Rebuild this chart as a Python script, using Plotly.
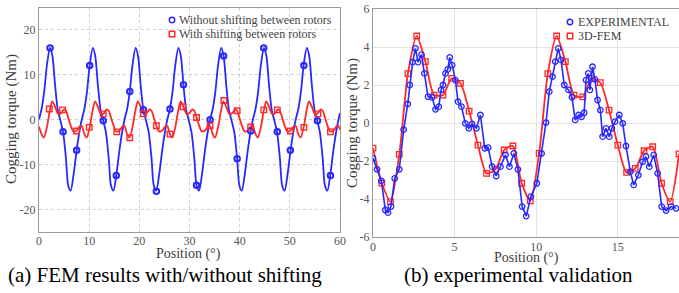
import plotly.graph_objects as go

# ---------------- Left panel (a): FEM results ----------------
without_pos = [0.0, 0.51, 1.04, 1.57,
    2.2, 2.68, 3.2, 3.74, 4.27, 4.8, 5.38, 5.81, 6.3, 6.87, 7.5, 8.08, 8.51, 9.04, 9.57, 10.1,
    10.73, 11.21, 11.73, 12.27, 12.8, 13.33, 13.91, 14.34, 14.83, 15.4, 16.03, 16.61, 17.04, 17.57, 18.1, 18.63,
    19.26, 19.74, 20.26, 20.8, 21.33, 21.86, 22.44, 22.87, 23.36, 23.93, 24.56, 25.14, 25.57, 26.1, 26.63, 27.16,
    27.79, 28.27, 28.79, 29.33, 29.86, 30.39, 30.97, 31.4, 31.89, 32.46, 33.09, 33.67, 34.1, 34.63, 35.16, 35.69,
    36.32, 36.8, 37.32, 37.86, 38.39, 38.92, 39.5, 39.93, 40.42, 40.99, 41.62, 42.2, 42.63, 43.16, 43.69, 44.22,
    44.85, 45.33, 45.85, 46.39, 46.92, 47.45, 48.03, 48.46, 48.95, 49.52, 50.15, 50.73, 51.16, 51.69, 52.22, 52.75,
    53.38, 53.86, 54.38, 54.92, 55.45, 55.98, 56.56, 56.99, 57.48, 58.05, 58.68, 59.26, 59.69, 60.0]
without_torque = [0.1, 2.4, 6.3, 12.1,
    16.0, 14.2, 7.8, 2.2, -0.2, -2.7, -8.7, -14.6, -15.8, -12.4, -6.8, -2.5, 0.0, 2.4, 6.3, 12.1,
    16.0, 14.2, 7.8, 2.2, -0.2, -2.7, -8.7, -14.6, -15.8, -12.4, -6.8, -2.5, 0.0, 2.4, 6.3, 12.1,
    16.0, 14.2, 7.8, 2.2, -0.2, -2.7, -8.7, -14.6, -15.8, -12.4, -6.8, -2.5, 0.0, 2.4, 6.3, 12.1,
    16.0, 14.2, 7.8, 2.2, -0.2, -2.7, -8.7, -14.6, -15.8, -12.4, -6.8, -2.5, 0.0, 2.4, 6.3, 12.1,
    16.0, 14.2, 7.8, 2.2, -0.2, -2.7, -8.7, -14.6, -15.8, -12.4, -6.8, -2.5, 0.0, 2.4, 6.3, 12.1,
    16.0, 14.2, 7.8, 2.2, -0.2, -2.7, -8.7, -14.6, -15.8, -12.4, -6.8, -2.5, 0.0, 2.4, 6.3, 12.1,
    16.0, 14.2, 7.8, 2.2, -0.2, -2.7, -8.7, -14.6, -15.8, -12.4, -6.8, -2.5, 0.0, 1.5]
without_mark_pos = [2.2, 4.8, 7.5, 10.1, 12.8, 15.4, 18.1, 20.8, 23.4, 26.1, 28.8, 31.4, 34.1, 36.8,
    39.5, 42.2, 44.8, 47.5, 50.1, 52.8, 55.5, 58.1]
without_mark_torque = [16.0, -2.7, -6.8, 12.1, -0.2, -12.4, 6.3, 2.2, -15.9, 2.4, 7.8, -14.6, 0.0, 14.2,
    -8.7, -2.5, 16.0, -2.7, -6.8, 12.1, -0.2, -12.4]

with_pos = [0.0, 0.5, 0.97, 1.57,
    2.2, 2.65, 3.2, 3.74, 4.05, 4.5, 4.95, 5.38, 5.81, 6.34, 6.87, 7.5, 8.1, 8.51, 9.04, 9.5, 10.1,
    10.73, 11.18, 11.73, 12.27, 12.58, 13.03, 13.48, 13.91, 14.34, 14.87, 15.4, 16.03, 16.63, 17.04, 17.57, 18.03, 18.63,
    19.26, 19.71, 20.26, 20.8, 21.11, 21.56, 22.01, 22.44, 22.87, 23.4, 23.93, 24.56, 25.16, 25.57, 26.1, 26.56, 27.16,
    27.79, 28.24, 28.79, 29.33, 29.64, 30.09, 30.54, 30.97, 31.4, 31.93, 32.46, 33.09, 33.69, 34.1, 34.63, 35.09, 35.69,
    36.32, 36.77, 37.32, 37.86, 38.17, 38.62, 39.07, 39.5, 39.93, 40.46, 40.99, 41.62, 42.22, 42.63, 43.16, 43.62, 44.22,
    44.85, 45.3, 45.85, 46.39, 46.7, 47.15, 47.6, 48.03, 48.46, 48.99, 49.52, 50.15, 50.75, 51.16, 51.69, 52.15, 52.75,
    53.38, 53.83, 54.38, 54.92, 55.23, 55.68, 56.13, 56.56, 56.99, 57.52, 58.05, 58.68, 59.28, 59.69, 60.0]
with_torque = [-1.5, -3.2, -4.0, -1.7,
    2.3, 4.1, 2.9, 1.4, 1.2, 1.6, 2.3, 2.0, 0.5, -1.35, -2.6, -2.4, -1.5, -1.4, -3.2, -4.0, -1.7,
    2.3, 4.1, 2.9, 1.4, 1.2, 1.6, 2.3, 2.0, 0.5, -1.35, -2.6, -2.4, -1.5, -1.4, -3.2, -4.0, -1.7,
    2.3, 4.1, 2.9, 1.4, 1.2, 1.6, 2.3, 2.0, 0.5, -1.35, -2.6, -2.4, -1.5, -1.4, -3.2, -4.0, -1.7,
    2.3, 4.1, 2.9, 1.4, 1.2, 1.6, 2.3, 2.0, 0.5, -1.35, -2.6, -2.4, -1.5, -1.4, -3.2, -4.0, -1.7,
    2.3, 4.1, 2.9, 1.4, 1.2, 1.6, 2.3, 2.0, 0.5, -1.35, -2.6, -2.4, -1.5, -1.4, -3.2, -4.0, -1.7,
    2.3, 4.1, 2.9, 1.4, 1.2, 1.6, 2.3, 2.0, 0.5, -1.35, -2.6, -2.4, -1.5, -1.4, -3.2, -4.0, -1.7,
    2.3, 4.1, 2.9, 1.4, 1.2, 1.6, 2.3, 2.0, 0.5, -1.35, -2.6, -2.4, -1.5, -1.4, -2.3]
with_mark_pos = [2.05, 4.7, 7.5, 10.0, 12.8, 15.5, 18.1, 20.8, 23.4, 26.1, 28.7, 31.4, 34.1, 36.85,
    39.5, 42.2, 44.8, 47.5, 50.1, 52.8, 55.6, 58.1]
with_mark_torque = [2.4, 2.2, -2.5, -1.7, 1.3, -2.7, -4.0, 1.3, -1.35, -3.2, 2.9, 0.5, -1.35, 4.3,
    2.0, -1.6, 2.2, 2.2, -2.5, -1.7, 1.3, -2.7]

# ---------------- Right panel (b): experimental validation ----------------
exp_pos = [0.0, 0.25, 0.51, 0.76, 0.92, 1.1, 1.33, 1.61, 1.88, 2.13, 2.25, 2.43, 2.6, 2.76, 2.97,
    3.15, 3.37, 3.62, 3.83, 4.03, 4.17, 4.29, 4.44, 4.58, 4.7, 4.85, 5.05, 5.21, 5.42, 5.66, 5.87,
    6.07, 6.34, 6.58, 6.85, 7.06, 7.3, 7.55, 7.81, 8.12, 8.36, 8.63, 8.88, 9.14, 9.39, 9.67, 10.04,
    10.33, 10.6, 10.8, 11.0, 11.17, 11.35, 11.52, 11.72, 11.98, 12.19, 12.39, 12.6, 12.78, 12.94,
    13.05, 13.19, 13.29, 13.45, 13.6, 13.76, 13.93, 14.07, 14.28, 14.48, 14.64, 14.83, 15.09, 15.3,
    15.5, 15.77, 15.97, 16.26, 16.52, 16.73, 16.93, 17.2, 17.44, 17.69, 17.96, 18.26, 18.57]
exp_torque = [-1.86, -2.44, -3.05, -4.58, -4.72, -4.4, -2.91, -2.44, -0.35, 1.0, 2.0, 3.2, 3.93, 3.2, 3.6,
    2.61, 1.39, 1.35, 0.72, 0.86, 1.74, 2.0, 2.61, 2.82, 3.45, 3.05, 2.26, 1.12, 0.86, -0.02, -0.28,
    -0.05, -0.28, 0.42, -1.33, -1.3, -2.3, -2.79, -2.3, -1.68, -2.3, -1.6, -2.44, -4.4, -4.9, -3.88, -3.17,
    -1.6, 0.02, 1.65, 2.44, 3.23, 3.93, 3.32, 2.0, 1.74, 1.35, 0.16, 0.42, 0.33, 0.54,
    2.26, 2.61, 1.74, 2.96, 2.3, 1.21, 0.68, -0.72, -0.28, -0.72, -0.28, 0.07, 0.42, -0.02,
    -1.21, -2.56, -3.26, -2.74, -2.04, -1.77, -2.3, -1.68, -2.65, -4.4, -4.61, -4.4, -4.49]

fem3d_pos = [0.0, 0.54, 1.07, 1.61, 2.14, 2.68, 3.21, 3.75, 4.29, 4.82, 5.36, 5.89, 6.43, 6.96, 7.5,
    8.04, 8.57, 9.11, 9.64, 10.18, 10.71, 11.25, 11.79, 12.32, 12.86, 13.39, 13.93, 14.46, 15.0,
    15.54, 16.07, 16.61, 17.14, 17.68, 18.21, 18.75]
fem3d_torque = [-1.32, -3.16, -4.14, -1.65, 2.6, 4.58, 3.23, 1.47, 1.47, 2.35, 2.09, 0.63, -1.16, -2.65, -2.44,
    -1.42, -1.21, -3.17, -4.1, -1.6, 2.6, 4.58, 3.23, 1.47, 1.38, 2.35, 2.12, 0.68, -1.16,
    -2.6, -2.39, -1.46, -1.25, -3.17, -4.14, -1.63]

left_xticks = [0, 10, 20, 30, 40, 50, 60]
left_yticks = [-20, -10, 0, 10, 20]
left_yticktext = ["-20", "-10", "0", "10", "20"]
right_xticks = [0, 5, 10, 15]
right_yticks = [-6, -4, -2, 0, 2, 4, 6]
right_yticktext = ["-6", "-4", "-2", "0", "2", "4", "6"]

# ---------------- Styling ----------------
W, H = 679, 293
BLUE = "rgb(40,40,255)"
RED = "rgb(255,40,40)"
SERIF = "Liberation Serif, Times New Roman, serif"
TICKC = "#555555"
TITLEC = "#3a3a3a"


def fx(px):
    return px / W


def fy(py):
    return 1 - py / H


fig = go.Figure()

fig.add_trace(go.Scatter(x=without_pos, y=without_torque, mode="lines",
                         line=dict(color=BLUE, width=1.8, shape="spline", smoothing=0.8),
                         xaxis="x", yaxis="y", showlegend=False, hoverinfo="skip"))
fig.add_trace(go.Scatter(x=with_pos, y=with_torque, mode="lines",
                         line=dict(color=RED, width=1.8, shape="spline", smoothing=0.8),
                         xaxis="x", yaxis="y", showlegend=False, hoverinfo="skip"))
fig.add_trace(go.Scatter(x=without_mark_pos, y=without_mark_torque, mode="markers",
                         marker=dict(symbol="circle-open", size=5.5, color=BLUE, line=dict(width=2, color=BLUE)),
                         xaxis="x", yaxis="y", showlegend=False))
fig.add_trace(go.Scatter(x=with_mark_pos, y=with_mark_torque, mode="markers",
                         marker=dict(symbol="square-open", size=5.5, color=RED, line=dict(width=1.4, color=RED)),
                         xaxis="x", yaxis="y", showlegend=False))

fig.add_trace(go.Scatter(x=fem3d_pos, y=fem3d_torque, mode="lines+markers",
                         line=dict(color=RED, width=1.8, shape="spline", smoothing=0.7),
                         marker=dict(symbol="square-open", size=5.5, color=RED, line=dict(width=1.3, color=RED)),
                         xaxis="x2", yaxis="y2", showlegend=False))
fig.add_trace(go.Scatter(x=exp_pos, y=exp_torque, mode="lines+markers",
                         line=dict(color=BLUE, width=1.6),
                         marker=dict(symbol="circle-open", size=5.5, color=BLUE, line=dict(width=1.3, color=BLUE)),
                         xaxis="x2", yaxis="y2", showlegend=False))

tickfont = dict(family=SERIF, size=12, color=TICKC)
common = dict(showline=True, linecolor="#9a9a9a", linewidth=1, zeroline=False, ticks="",
              tickfont=tickfont, showgrid=True, automargin=False)

fig.update_layout(
    width=W, height=H, margin=dict(l=0, r=0, t=0, b=0),
    paper_bgcolor="white", plot_bgcolor="white",
    font=dict(family=SERIF),
    xaxis=dict(domain=[fx(39), fx(340)], range=[0, 60], tickvals=left_xticks, mirror=True,
               anchor="y", gridcolor="#cfcfcf", griddash="dot", ticklabelstandoff=-2, **common),
    yaxis=dict(domain=[fy(232), fy(7.5)], range=[-25, 25], tickvals=left_yticks,
               ticktext=left_yticktext, mirror=True, anchor="x",
               gridcolor="#cfcfcf", griddash="dot", **common),
    xaxis2=dict(domain=[fx(373), 1.0], range=[0, 18.75], tickvals=right_xticks, mirror=True,
                anchor="y2", gridcolor="#e3e3e3", ticklabelstandoff=-1, **common),
    yaxis2=dict(domain=[fy(237), fy(9)], range=[-6, 6], tickvals=right_yticks,
                ticktext=right_yticktext, mirror=False, anchor="x2",
                gridcolor="#e3e3e3", **common),
)

ann = []
# axis titles
ann.append(dict(text="Cogging torque (Nm)", x=fx(11), y=fy(119), textangle=-90,
                font=dict(family=SERIF, size=15, color=TITLEC)))
ann.append(dict(text="Cogging torque (Nm)", x=fx(352), y=fy(123), textangle=-90,
                font=dict(family=SERIF, size=15, color=TITLEC)))
ann.append(dict(text="Position (°)", x=fx(188), y=fy(254),
                font=dict(family=SERIF, size=14, color=TITLEC)))
ann.append(dict(text="Position (°)", x=fx(526), y=fy(257.5),
                font=dict(family=SERIF, size=14, color=TITLEC)))
# captions
ann.append(dict(text="(a) FEM results with/without shifting", x=fx(165), y=fy(275),
                font=dict(family=SERIF, size=21, color="black")))
ann.append(dict(text="(b) experimental validation", x=fx(518), y=fy(275),
                font=dict(family=SERIF, size=21, color="black")))
# legend texts
legend_font = dict(family=SERIF, size=12, color="#444444")
ann.append(dict(text="Without shifting between rotors", x=fx(177), y=fy(20), xanchor="left", font=legend_font))
ann.append(dict(text="With shifting between rotors", x=fx(177), y=fy(34), xanchor="left", font=legend_font))
ann.append(dict(text="EXPERIMENTAL", x=fx(576), y=fy(22), xanchor="left", font=legend_font))
ann.append(dict(text="3D-FEM", x=fx(576), y=fy(36), xanchor="left", font=legend_font))
for a in ann:
    a.setdefault("xanchor", "center")
    a.update(xref="paper", yref="paper", yanchor="middle", showarrow=False)
fig.update_layout(annotations=ann)

# legend symbols
shapes = []


def sym(kind, cx, cy, color):
    r = 2.7
    shapes.append(dict(type=kind, xref="paper", yref="paper",
                       x0=fx(cx - r), x1=fx(cx + r), y0=fy(cy + r), y1=fy(cy - r),
                       line=dict(color=color, width=1.5), fillcolor="rgba(0,0,0,0)"))


sym("circle", 172, 20, BLUE)
sym("rect", 172, 34, RED)
sym("circle", 570, 22, BLUE)
sym("rect", 570, 36, RED)
fig.update_layout(shapes=shapes)

fig.write_html("out.html", config={"displayModeBar": False},
               post_script="document.body.style.margin='0';document.body.style.overflow='hidden';")
